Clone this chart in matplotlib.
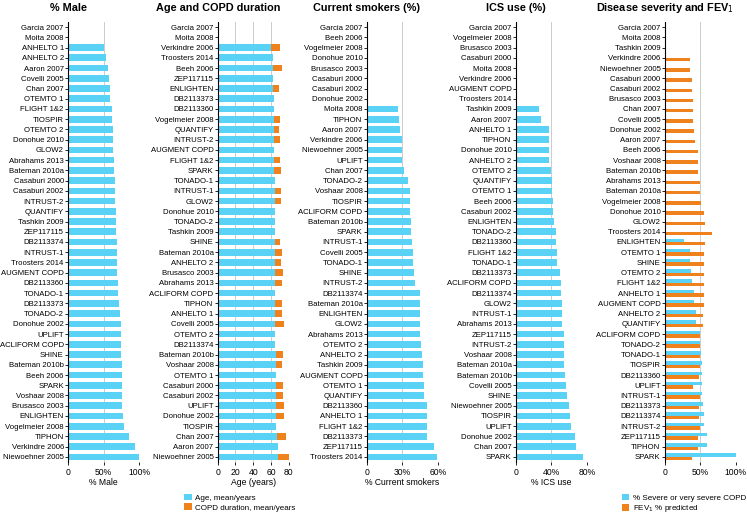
import numpy as np
import matplotlib
matplotlib.use("Agg")
import matplotlib.pyplot as plt

plt.rcParams['font.family'] = ['Liberation Sans', 'DejaVu Sans']

CYAN = "#5ad2f5"
ORANGE = "#f0821e"
nan = np.nan

# % Male
male_studies = ["Garcia 2007", "Moita 2008", "ANHELTO 1", "ANHELTO 2", "Aaron 2007", "Covelli 2005",
                "Chan 2007", "OTEMTO 1", "FLIGHT 1&2", "TIOSPIR", "OTEMTO 2", "Donohue 2010", "GLOW2",
                "Abrahams 2013", "Bateman 2010a", "Casaburi 2000", "Casaburi 2002", "INTRUST-2",
                "QUANTIFY", "Tashkin 2009", "ZEP117115", "DB2113374", "INTRUST-1", "Troosters 2014",
                "AUGMENT COPD", "DB2113360", "TONADO-1", "DB2113373", "TONADO-2", "Donohue 2002",
                "UPLIFT", "ACLIFORM COPD", "SHINE", "Bateman 2010b", "Beeh 2006", "SPARK",
                "Voshaar 2008", "Brusasco 2003", "ENLIGHTEN", "Vogelmeier 2008", "TIPHON",
                "Verkindre 2006", "Niewoehner 2005"]
male_pct = [nan, nan, 50, 54, 56, 58, 59.5, 59.5, 62, 62, 63, 64, 64, 65, 65, 66, 66, 66, 67, 67,
            68, 69, 69, 69, 69, 70, 71, 72, 73, 75, 75, 75, 75, 76, 76, 76, 76, 76.5, 77, 79, 86,
            95, 99.5]

# Age and COPD duration
age_studies = ["Garcia 2007", "Moita 2008", "Verkindre 2006", "Troosters 2014", "Beeh 2006",
               "ZEP117115", "ENLIGHTEN", "DB2113373", "DB2113360", "Vogelmeier 2008", "QUANTIFY",
               "INTRUST-2", "AUGMENT COPD", "FLIGHT 1&2", "SPARK", "TONADO-1", "INTRUST-1", "GLOW2",
               "Donohue 2010", "TONADO-2", "Tashkin 2009", "SHINE", "Bateman 2010a", "ANHELTO 2",
               "Brusasco 2003", "Abrahams 2013", "ACLIFORM COPD", "TIPHON", "ANHELTO 1",
               "Covelli 2005", "OTEMTO 2", "DB2113374", "Bateman 2010b", "Voshaar 2008", "OTEMTO 1",
               "Casaburi 2000", "Casaburi 2002", "UPLIFT", "Donohue 2002", "TIOSPIR", "Chan 2007",
               "Aaron 2007", "Niewoehner 2005"]
age_mean = [nan, nan, 60, 61.9, 62.6, 62.6, 62.6, 63.4, 63.4, 63.8, 63.8, 63.8, 63.4, 63.8, 63.8,
            64, 64, 64, 64, 64, 64, 64, 64, 64.5, 64.5, 64.5, 64.5, 65, 65, 65, 65, 65, 65.3, 65.3,
            65.7, 65.7, 65.7, 65.7, 65.7, 66, 67.2, 68, 68]
copd_duration = [nan, nan, 10, nan, 10, nan, 6.5, nan, nan, 6, 5.6, 6.4, nan, 6.8, 7.2, nan, 7,
                 7.6, nan, nan, nan, 6, 8.7, 7.2, 8.7, 8, nan, 7.5, 7.5, 10, nan, nan, 8.3, 7.2,
                 nan, 8.3, 7.9, 9.4, 9.4, nan, 10.2, nan, 12]

# Current smokers
smk_studies = ["Garcia 2007", "Beeh 2006", "Vogelmeier 2008", "Donohue 2010", "Brusasco 2003",
               "Casaburi 2000", "Casaburi 2002", "Donohue 2002", "Moita 2008", "TIPHON",
               "Aaron 2007", "Verkindre 2006", "Niewoehner 2005", "UPLIFT", "Chan 2007", "TONADO-2",
               "Voshaar 2008", "TIOSPIR", "ACLIFORM COPD", "Bateman 2010b", "SPARK", "INTRUST-1",
               "Covelli 2005", "TONADO-1", "SHINE", "INTRUST-2", "DB2113374", "Bateman 2010a",
               "ENLIGHTEN", "GLOW2", "Abrahams 2013", "OTEMTO 2", "ANHELTO 2", "Tashkin 2009",
               "AUGMENT COPD", "OTEMTO 1", "QUANTIFY", "DB2113360", "ANHELTO 1", "FLIGHT 1&2",
               "DB2113373", "ZEP117115", "Troosters 2014"]
smk_pct = [nan, nan, nan, nan, nan, nan, nan, nan, 26.8, 27.3, 27.9, 29.6, 29.9, 29.9, 31.8, 35.2,
           36.6, 36.6, 36.6, 37.2, 37.7, 38, 38.9, 38.9, 40, 40.8, 44.8, 44.8, 44.8, 44.8, 45.4,
           45.6, 46.8, 47.3, 47.3, 48.7, 48.7, 50.7, 50.7, 50.7, 50.7, 56.6, 59.7]

# ICS use
ics_studies = ["Garcia 2007", "Vogelmeier 2008", "Brusasco 2003", "Casaburi 2000", "Moita 2008",
               "Verkindre 2006", "AUGMENT COPD", "Troosters 2014", "Tashkin 2009", "Aaron 2007",
               "ANHELTO 1", "TIPHON", "Donohue 2010", "ANHELTO 2", "OTEMTO 2", "QUANTIFY",
               "OTEMTO 1", "Beeh 2006", "Casaburi 2002", "ENLIGHTEN", "TONADO-2", "DB2113360",
               "FLIGHT 1&2", "TONADO-1", "DB2113373", "ACLIFORM COPD", "DB2113374", "GLOW2",
               "INTRUST-1", "Abrahams 2013", "ZEP117115", "INTRUST-2", "Voshaar 2008",
               "Bateman 2010a", "Bateman 2010b", "Covelli 2005", "SHINE", "Niewoehner 2005",
               "TIOSPIR", "UPLIFT", "Donohue 2002", "Chan 2007", "SPARK"]
ics_pct = [nan, nan, nan, nan, nan, nan, nan, nan, 26.7, 29, 37.2, 37.2, 37.6, 37.6, 40, 41, 41,
           42, 42, 43.6, 45.9, 45.9, 46.2, 46.2, 50.4, 51, 51, 52, 52, 52.6, 54, 54, 54.5, 54.5,
           55.3, 56.4, 57.5, 59.8, 61.3, 62, 66.5, 68, 76]

# Disease severity and FEV1
sev_studies = ["Garcia 2007", "Moita 2008", "Tashkin 2009", "Verkindre 2006", "Niewoehner 2005",
               "Casaburi 2000", "Casaburi 2002", "Brusasco 2003", "Chan 2007", "Covelli 2005",
               "Donohue 2002", "Aaron 2007", "Beeh 2006", "Voshaar 2008", "Bateman 2010b",
               "Abrahams 2013", "Bateman 2010a", "Vogelmeier 2008", "Donohue 2010", "GLOW2",
               "Troosters 2014", "ENLIGHTEN", "OTEMTO 1", "SHINE", "OTEMTO 2", "FLIGHT 1&2",
               "ANHELTO 1", "AUGMENT COPD", "ANHELTO 2", "QUANTIFY", "ACLIFORM COPD", "TONADO-2",
               "TONADO-1", "TIOSPIR", "DB2113360", "UPLIFT", "INTRUST-1", "DB2113373",
               "DB2113374", "INTRUST-2", "ZEP117115", "TIPHON", "SPARK"]
severe_pct = [nan] * 21 + [26.6, 35, 35.5, 37, 38.8, 41, 41, 43.5, 43.5, 50, 50, 51, 52, 52, 53,
                           53, 53.7, 54.7, 54.7, 59.3, 60, 100]
fev1_pct = [nan, nan, nan, 36, 36, 38.8, 38.8, 39.7, 39.7, 39.7, 41.6, 42.5, 46.3, 46.3, 46.7,
            49.5, 49.5, 51, 55.6, 56.5, 66.4, 57, 55.6, 55.6, 55.6, 54.7, 54.7, 54.7, 53.7, 53.7,
            50, 50, 50, 50, 48.6, 39.7, 50, 48, 47.7, 50, 46.7, 46.7, 37.8]


def setup_axis(ax, labels, ticks, ticklabels, xlabel, title):
    n = len(labels)
    ax.set_ylim(n - 0.5, -0.5)
    ax.set_yticks(np.arange(n))
    ax.set_yticklabels(labels, fontsize=5.6)
    ax.set_xlim(ticks[0], ticks[-1])
    ax.set_xticks(ticks)
    ax.set_xticklabels(ticklabels, fontsize=6.2)
    ax.set_xlabel(xlabel, fontsize=6.2, labelpad=1)
    for s in ["top", "right", "bottom"]:
        ax.spines[s].set_visible(False)
    ax.spines["left"].set_linewidth(0.8)
    ax.tick_params(axis="y", length=2, width=0.6, pad=1)
    ax.tick_params(axis="x", length=2, width=0.6, pad=2)
    ax.grid(axis="x", color="#cccccc", linewidth=0.7)
    ax.set_axisbelow(True)
    ax.set_title(title, fontsize=7.8, fontweight="bold", x=0, y=1.0, pad=8)


def add_legend(ax, xoff):
    ax.legend(loc="upper left", bbox_to_anchor=(xoff, -0.072), frameon=False, fontsize=5.8,
              handlelength=0.9, handleheight=0.9, handletextpad=0.4, labelspacing=0.2,
              borderaxespad=0, borderpad=0)


fig = plt.figure(figsize=(7.47, 5.15), dpi=100)
left = [68, 217.7, 366.7, 515.7, 664.7]
width = 71
bottom = 1 - 462 / 515
height = (462 - 22) / 515
axes = [fig.add_axes([l / 747, bottom, width / 747, height]) for l in left]

ax = axes[0]
y = np.arange(len(male_studies))
ax.barh(y, male_pct, height=0.65, color=CYAN)
setup_axis(ax, male_studies, [0, 50, 100], ["0", "50%", "100%"], "% Male", "% Male")

ax = axes[1]
y = np.arange(len(age_studies))
ax.barh(y, age_mean, height=0.65, color=CYAN, label="Age, mean/years")
ax.barh(y, copd_duration, left=age_mean, height=0.65, color=ORANGE,
        label="COPD duration, mean/years")
setup_axis(ax, age_studies, [0, 20, 40, 60, 80], ["0", "20", "40", "60", "80"], "Age (years)",
           "Age and COPD duration")
add_legend(ax, -0.47)

ax = axes[2]
y = np.arange(len(smk_studies))
ax.barh(y, smk_pct, height=0.65, color=CYAN)
setup_axis(ax, smk_studies, [0, 30, 60], ["0", "30%", "60%"], "% Current smokers",
           "Current smokers (%)")

ax = axes[3]
y = np.arange(len(ics_studies))
ax.barh(y, ics_pct, height=0.65, color=CYAN)
setup_axis(ax, ics_studies, [0, 40, 80], ["0", "40%", "80%"], "% ICS use", "ICS use (%)")

ax = axes[4]
y = np.arange(len(sev_studies))
ax.barh(y - 0.17, severe_pct, height=0.34, color=CYAN, label="% Severe or very severe COPD")
ax.barh(y + 0.17, fev1_pct, height=0.34, color=ORANGE, label="FEV$_1$ % predicted")
setup_axis(ax, sev_studies, [0, 50, 100], ["0", "50%", "100%"], "",
           "Disease severity and FEV$_1$")
add_legend(ax, -0.6)

fig.savefig("out.png", dpi=100)
